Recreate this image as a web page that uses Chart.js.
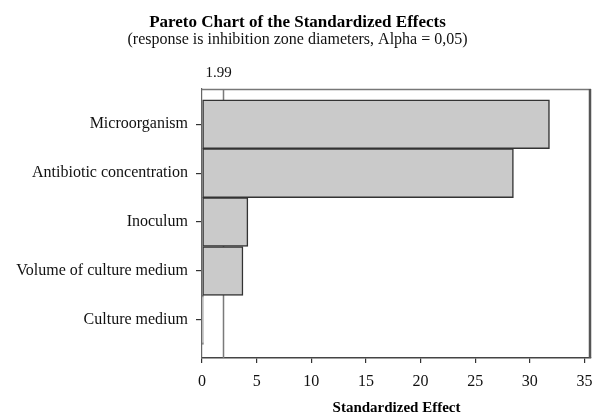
<!DOCTYPE html>
<html>
<head>
<meta charset="utf-8">
<script src="https://cdn.jsdelivr.net/npm/chart.js@4/dist/chart.umd.min.js"></script>
<style>
  html, body { margin: 0; padding: 0; background: #fff; }
  #wrap { width: 595px; height: 414px; }
</style>
</head>
<body>
<div id="wrap"><canvas id="c" width="595" height="414"></canvas></div>
<script>
// Factors, listed top to bottom
const categories = [
  'Microorganism',
  'Antibiotic concentration',
  'Inoculum',
  'Volume of culture medium',
  'Culture medium'
];
// Absolute standardized effect of each factor
const effects = [31.8, 28.5, 4.2, 3.75, 0.12];
// Critical t value for Alpha = 0,05
const criticalValue = 1.99;
const criticalLabel = '1.99';
// Axis ticks
const xTicks = [0, 5, 10, 15, 20, 25, 30, 35];

const serif = "'Liberation Serif', 'Times New Roman', serif";
const ink = '#111';

// Reference line for the critical value, plus its label and the plot frame
const refLine = {
  id: 'refLine',
  beforeDatasetsDraw(chart) {
    const { ctx, chartArea: a, scales: { x } } = chart;
    const px = Math.round(x.getPixelForValue(criticalValue)) - 0.5;
    ctx.save();
    ctx.strokeStyle = '#7a7a7a';
    ctx.lineWidth = 1.5;
    ctx.beginPath();
    ctx.moveTo(px, a.top);
    ctx.lineTo(px, a.bottom);
    ctx.stroke();
    ctx.restore();
  },
  afterDraw(chart) {
    const { ctx, chartArea: a, scales: { x } } = chart;
    const px = x.getPixelForValue(criticalValue);
    ctx.save();
    // frame
    ctx.strokeStyle = '#777';
    ctx.lineWidth = 1.3;
    ctx.beginPath();
    ctx.moveTo(a.left, a.top + 0.5);
    ctx.lineTo(a.right, a.top + 0.5);
    ctx.stroke();
    ctx.strokeStyle = '#555';
    ctx.lineWidth = 2.5;
    ctx.beginPath();
    ctx.moveTo(a.right - 1, a.top);
    ctx.lineTo(a.right - 1, a.bottom);
    ctx.stroke();
    // label
    ctx.fillStyle = ink;
    ctx.font = '15px ' + serif;
    ctx.textAlign = 'center';
    ctx.textBaseline = 'alphabetic';
    ctx.fillText(criticalLabel, px - 5, a.top - 12);
    ctx.restore();
  }
};

new Chart(document.getElementById('c'), {
  type: 'bar',
  data: {
    datasets: [{
      data: effects.map((v, i) => ({ x: v, y: i })),
      backgroundColor: '#cacaca',
      borderColor: '#333',
      borderWidth: 1.5,
      borderSkipped: false,
      barPercentage: 1,
      categoryPercentage: 1
    }]
  },
  options: {
    indexAxis: 'y',
    responsive: false,
    animation: false,
    devicePixelRatio: 1,
    layout: { padding: { top: 0, right: 0, bottom: 0, left: 0 } },
    plugins: {
      legend: { display: false },
      tooltip: { enabled: false },
      title: {
        display: true,
        text: 'Pareto Chart of the Standardized Effects',
        color: '#000',
        font: { family: serif, size: 17, weight: 'bold', lineHeight: 1 },
        padding: { top: 14, bottom: 1 }
      },
      subtitle: {
        display: true,
        text: '(response is inhibition zone diameters, Alpha = 0,05)',
        color: ink,
        font: { family: serif, size: 16, lineHeight: 1 },
        padding: { top: 0, bottom: 41 }
      }
    },
    scales: {
      x: {
        type: 'linear',
        min: 0,
        max: 35.6,
        afterBuildTicks(s) { s.ticks = xTicks.map(v => ({ value: v })); },
        afterFit(s) { s.height = 56; s.paddingRight = 4; s.paddingLeft = 0; },
        ticks: { color: ink, font: { family: serif, size: 16 }, padding: 9, maxRotation: 0 },
        grid: { display: true, drawOnChartArea: false, drawTicks: true, tickLength: 5, color: '#333', lineWidth: 1.2 },
        border: { display: true, color: '#444', width: 1.5 },
        title: {
          display: true,
          text: 'Standardized Effect',
          color: '#000',
          font: { family: serif, size: 15, weight: 'bold', lineHeight: 0.8 },
          padding: { top: 9, bottom: 0 }
        }
      },
      y: {
        type: 'linear',
        reverse: true,
        offset: false,
        min: -0.72,
        max: 4.78,
        afterBuildTicks(s) { s.ticks = categories.map((c, i) => ({ value: i })); },
        afterFit(s) { s.width = 202; },
        ticks: {
          color: ink,
          font: { family: serif, size: 16 },
          padding: 8,
          callback: v => categories[v]
        },
        grid: { display: true, offset: false, drawOnChartArea: false, drawTicks: true, tickLength: 6, color: '#333', lineWidth: 1.2 },
        border: { display: true, color: '#666', width: 1.2 }
      }
    }
  },
  plugins: [refLine]
});
</script>
</body>
</html>
